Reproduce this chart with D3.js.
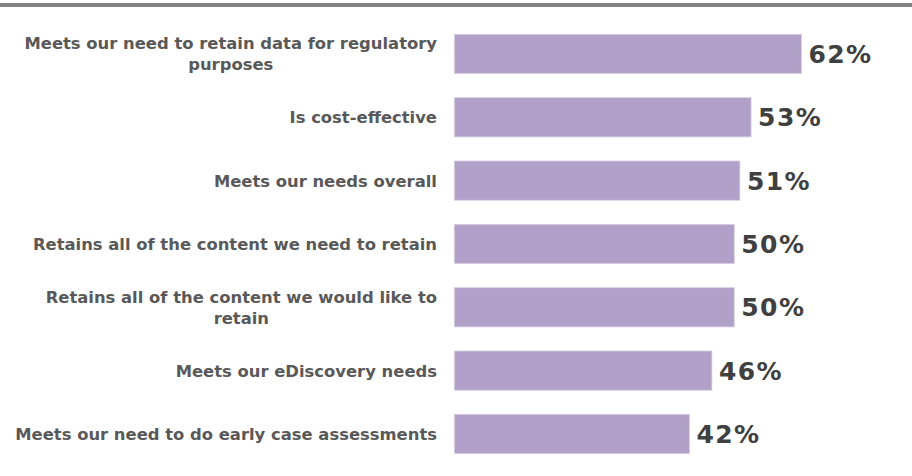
<!DOCTYPE html>
<html>
<head>
<meta charset="utf-8">
<script src="https://cdn.jsdelivr.net/npm/d3@7"></script>
<style>
  html, body { margin: 0; padding: 0; background: #fff; }
  svg { display: block; }
</style>
</head>
<body>
<svg id="chart" width="912" height="476"></svg>
<script>
const categories = [
  "Meets our need to retain data for regulatory purposes",
  "Is cost-effective",
  "Meets our needs overall",
  "Retains all of the content we need to retain",
  "Retains all of the content we would like to retain",
  "Meets our eDiscovery needs",
  "Meets our need to do early case assessments"
];
const values = [62, 53, 51, 50, 50, 46, 42];
const valueLabels = ["62%", "53%", "51%", "50%", "50%", "46%", "42%"];

const svg = d3.select("#chart");
const W = 912, H = 476;

// top rule (title above is cut off)
svg.append("rect").attr("x", 0).attr("y", 3).attr("width", W).attr("height", 4).attr("fill", "#808080");

const x = d3.scaleLinear().domain([0, 100]).range([454.3, 454.3 + 560]);
const y = d3.scaleBand().domain(categories).range([22.3, 465.6]).paddingInner(0.38).paddingOuter(0.19);

const rows = svg.append("g").selectAll("g").data(categories).join("g");

rows.append("rect")
  .attr("x", x(0))
  .attr("y", d => y(d))
  .attr("width", (d, i) => x(values[i]) - x(0))
  .attr("height", y.bandwidth())
  .attr("fill", "#b1a1c8")
  .attr("stroke", "#d9d0e4")
  .attr("stroke-width", 0.8);

rows.append("text")
  .attr("x", (d, i) => x(values[i]) + 7)
  .attr("y", d => y(d) + y.bandwidth() / 2)
  .attr("dy", "0.36em")
  .attr("font-family", "DejaVu Sans, Verdana, sans-serif")
  .attr("font-weight", "bold")
  .attr("font-size", 25)
  .attr("letter-spacing", 1.4)
  .attr("fill", "#404040")
  .text((d, i) => valueLabels[i]);

// category labels, wrapped
const labelX = 437, maxW = 432, lineH = 21;
rows.each(function(d) {
  const g = d3.select(this);
  const t = g.append("text")
    .attr("font-family", "DejaVu Sans, Verdana, sans-serif")
    .attr("font-weight", "bold")
    .attr("font-size", 16.4)
    .attr("fill", "#595959")
    .attr("text-anchor", "middle");
  const words = d.split(" ");
  const probe = t.append("tspan");
  let lines = [], cur = [];
  words.forEach(w => {
    const test = cur.concat([w]).join(" ");
    probe.text(test);
    if (probe.node().getComputedTextLength() > maxW && cur.length) {
      lines.push(cur.join(" "));
      cur = [w];
    } else cur.push(w);
  });
  lines.push(cur.join(" "));
  probe.remove();
  const widths = lines.map(l => { const s = t.append("tspan").text(l); const w = s.node().getComputedTextLength(); s.remove(); return w; });
  const blockW = d3.max(widths);
  const cx = labelX - blockW / 2;
  const cy = y(d) + y.bandwidth() / 2;
  const y0 = cy - (lines.length - 1) * lineH / 2;
  lines.forEach((l, i) => {
    t.append("tspan").attr("x", cx).attr("y", y0 + i * lineH).attr("dy", "0.36em").text(l);
  });
});
</script>
</body>
</html>
